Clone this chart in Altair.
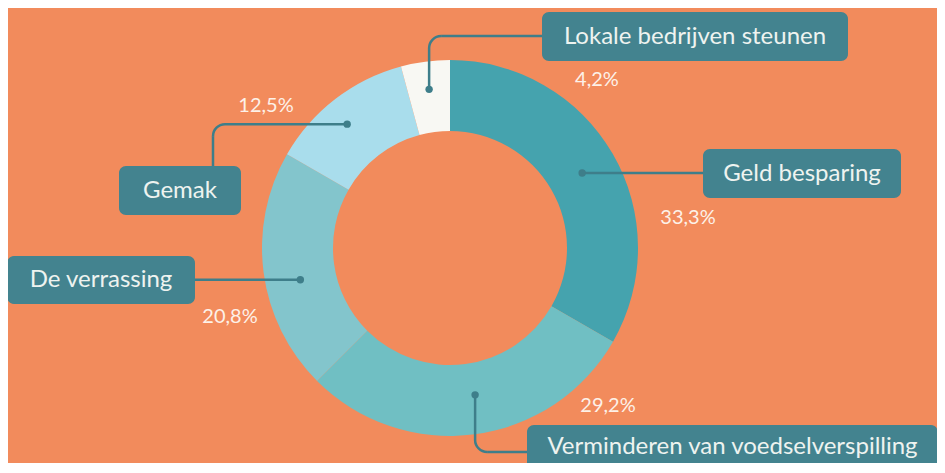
import math
import altair as alt
import pandas as pd

# ---------------- data ----------------
categories = ["Geld besparing", "Verminderen van voedselverspilling",
              "De verrassing", "Gemak", "Lokale bedrijven steunen"]
values = [33.3, 29.2, 20.8, 12.5, 4.2]
pct_labels = ["33,3%", "29,2%", "20,8%", "12,5%", "4,2%"]

# ---------------- styles ----------------
slice_colors = ["#45A3AE", "#70BFC3", "#83C5CC", "#A9DDEC", "#F8F8F3"]
BG = "#F28B5C"
BOX = "#43838F"
LINE = "#3E7E8A"
BOX_TEXT = "#EEF3F0"
PCT_TEXT = "#FDF1E8"
FONT = "Lato"

# ---------------- layout (picture pixels) ----------------
OFF = 8
W, H = 929, 455
CX, CY = 450, 248
R_OUT, R_IN = 188, 117
anchor_deg = [60.4, 170.3, 258.0, 320.3, 352.5]
anchor_r = [152, 149, 153, 161, 160]
box_x0 = [703, 527, 7, 119, 542]
box_x1 = [901, 938, 195, 241, 848]
box_y0 = [149, 425, 256, 166, 12]
box_y1 = [198, 469, 304, 215, 61]
conn_kind = ["h", "vh", "h", "hv", "vh"]
conn_end_x = [703, 527, 195, 213, 542]
conn_end_y = [173, 452, 280, 166, 36]
pct_x = [688, 608, 230, 266, 597]
pct_y = [218, 406, 317, 106, 80]
RC = 12
LW = 2.5


def sgn(v):
    return 1 if v > 0 else -1


def ang(dx, dy):
    return math.atan2(dx, -dy) % (2 * math.pi)


slices = pd.DataFrame({"idx": list(range(len(categories))),
                       "category": categories, "value": values})

boxes = pd.DataFrame({
    "category": categories,
    "x0": [v - OFF for v in box_x0], "x1": [v - OFF for v in box_x1],
    "y0": [v - OFF for v in box_y0], "y1": [v - OFF for v in box_y1],
})
boxes["tx"] = (boxes["x0"] + boxes["x1"]) / 2
boxes["ty"] = (boxes["y0"] + boxes["y1"]) / 2

pcts = pd.DataFrame({"label": pct_labels,
                     "x": [v - OFF for v in pct_x],
                     "y": [v - OFF for v in pct_y]})

dots, segs, corners = [], [], []
for i in range(len(categories)):
    t = math.radians(anchor_deg[i])
    ax = CX + anchor_r[i] * math.sin(t)
    ay = CY - anchor_r[i] * math.cos(t)
    dots.append({"x": ax - OFF, "y": ay - OFF})
    ex, ey = conn_end_x[i], conn_end_y[i]
    k = conn_kind[i]
    if k == "h":
        segs.append((ax, ay, ex, ay))
        continue
    sx, sy = sgn(ex - ax), sgn(ey - ay)
    if k == "vh":
        segs.append((ax, ay, ax, ey - sy * RC))
        segs.append((ax + sx * RC, ey, ex, ey))
        ccx, ccy = ax + sx * RC, ey - sy * RC
        t1, t2 = ang(-sx, 0), ang(0, sy)
    else:
        segs.append((ax, ay, ex - sx * RC, ay))
        segs.append((ex, ay + sy * RC, ex, ey))
        ccx, ccy = ex - sx * RC, ay + sy * RC
        t1, t2 = ang(0, -sy), ang(sx, 0)
    if abs(t2 - t1) > math.pi:
        if t1 < t2:
            t1 += 2 * math.pi
        else:
            t2 += 2 * math.pi
    corners.append({"x": ccx - OFF, "y": ccy - OFF,
                    "t1": min(t1, t2), "t2": max(t1, t2)})

dots = pd.DataFrame(dots)
segs = pd.DataFrame([{"x": a - OFF, "y": b - OFF, "x2": c - OFF, "y2": d - OFF}
                     for a, b, c, d in segs])
corners = pd.DataFrame(corners)

xs = alt.Scale(domain=[0, W], nice=False, zero=False)
ys = alt.Scale(domain=[0, H], nice=False, zero=False, reverse=True)

donut = alt.Chart(slices).mark_arc(
    innerRadius=R_IN, outerRadius=R_OUT
).encode(
    theta=alt.Theta("value:Q", stack=True),
    color=alt.Color("category:N",
                    scale=alt.Scale(domain=categories, range=slice_colors),
                    legend=None),
    order=alt.Order("idx:Q", sort="ascending"),
    x=alt.datum(CX - OFF, scale=xs, axis=None),
    y=alt.datum(CY - OFF, scale=ys, axis=None),
)

rules = alt.Chart(segs).mark_rule(
    color=LINE, strokeWidth=LW, strokeCap="butt"
).encode(
    x=alt.X("x:Q", scale=xs, axis=None), y=alt.Y("y:Q", scale=ys, axis=None),
    x2="x2:Q", y2="y2:Q",
)

corner_arcs = alt.Chart(corners).mark_arc(
    innerRadius=RC - LW / 2, outerRadius=RC + LW / 2, color=LINE
).encode(
    x=alt.X("x:Q", scale=xs, axis=None), y=alt.Y("y:Q", scale=ys, axis=None),
    theta=alt.Theta("t1:Q", scale=None, stack=False),
    theta2="t2:Q",
)

dot_marks = alt.Chart(dots).mark_circle(size=55, color=LINE, opacity=1).encode(
    x=alt.X("x:Q", scale=xs, axis=None), y=alt.Y("y:Q", scale=ys, axis=None),
)

box_marks = alt.Chart(boxes).mark_rect(cornerRadius=7, color=BOX).encode(
    x=alt.X("x0:Q", scale=xs, axis=None), x2="x1:Q",
    y=alt.Y("y0:Q", scale=ys, axis=None), y2="y1:Q",
)

box_text = alt.Chart(boxes).mark_text(
    font=FONT, fontSize=24, color=BOX_TEXT, align="center", baseline="middle"
).encode(
    x=alt.X("tx:Q", scale=xs, axis=None), y=alt.Y("ty:Q", scale=ys, axis=None),
    text="category:N",
)

pct_text = alt.Chart(pcts).mark_text(
    font=FONT, fontSize=20, color=PCT_TEXT, align="center", baseline="middle"
).encode(
    x=alt.X("x:Q", scale=xs, axis=None), y=alt.Y("y:Q", scale=ys, axis=None),
    text="label:N",
)

chart = alt.layer(
    donut, rules, corner_arcs, dot_marks, box_marks, box_text, pct_text
).resolve_scale(
    theta="independent"
).properties(
    width=W, height=H, padding=0, background=BG,
    autosize=alt.AutoSizeParams(type="none")
).configure_view(stroke=None)

chart.save("out.html", embed_options={"renderer": "svg", "actions": False})
